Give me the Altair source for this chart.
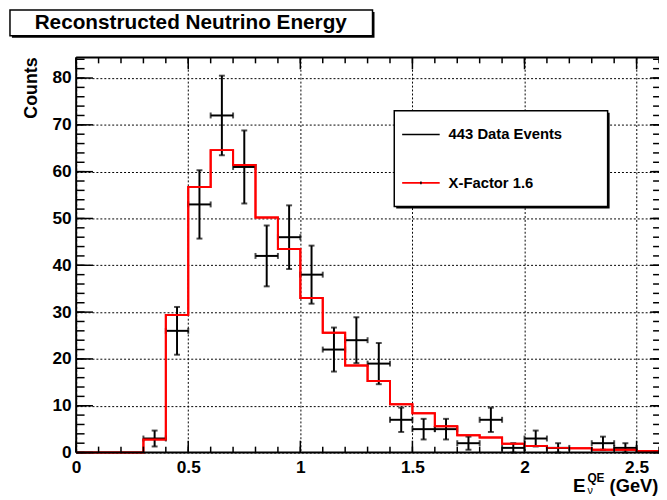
import altair as alt
import pandas as pd

# ---------------- data ----------------
bin_lo = [round(0.1 * i, 1) for i in range(26)]          # bin lower edges, width 0.1 GeV
mc_values = [0, 0, 0, 2.8, 29.4, 56.7, 64.6, 61.4, 50.2, 43.5, 33.0, 25.6, 18.6,
             15.3, 10.3, 8.4, 5.6, 3.7, 3.2, 1.9, 1.4, 1.0, 0.9, 0.6, 0.6, 0.35]
data_counts = [0, 0, 0, 3, 26, 53, 72, 61, 42, 46, 38, 22, 24,
               19, 7, 5, 5, 2, 7, 1, 3, 1, 0, 2, 1, 0]
data_errors = [0, 0, 0, 1.7, 5.1, 7.3, 8.5, 7.8, 6.5, 6.8, 6.2, 4.7, 4.9,
               4.4, 2.6, 2.2, 2.2, 1.4, 2.6, 1.0, 1.7, 1.0, 0, 1.4, 1.0, 0]
x_major = [0, 0.5, 1.0, 1.5, 2.0, 2.5]
y_major = [0, 10, 20, 30, 40, 50, 60, 70, 80]
x_minor = [round(0.1 * i, 1) for i in range(27)]
y_minor = list(range(0, 85, 2))
X_MAX = 2.6
Y_MAX = 84.4

W, H = 590, 400
FONT = "Liberation Sans"

hist_df = pd.DataFrame({"x": bin_lo + [X_MAX], "y": mc_values + [mc_values[-1]]})
pts = pd.DataFrame({"lo": bin_lo, "n": data_counts, "e": data_errors})
pts = pts[pts.n > 0].copy()
pts["xc"] = pts.lo + 0.05
pts["xlo"] = pts.lo
pts["xhi"] = pts.lo + 0.1
pts["ylo"] = pts.n - pts.e
pts["yhi"] = pts.n + pts.e

xscale = alt.Scale(domain=[0, X_MAX], nice=False, zero=False)
yscale = alt.Scale(domain=[0, Y_MAX], nice=False, zero=False)
common_axis = dict(labelFont=FONT, labelFontWeight="bold", labelFontSize=17.5,
                   labelColor="black", ticks=False, tickSize=0, domain=False,
                   grid=True, gridColor="black", gridDash=[2, 2], gridWidth=1,
                   gridOpacity=1, title=None, labelFlush=False, labelOverlap=False)
xaxis = alt.Axis(values=x_major, format="~g", labelPadding=6, **common_axis)
yaxis = alt.Axis(values=y_major, labelPadding=5, **common_axis)


def X(f):
    return alt.X(f"{f}:Q", scale=xscale, axis=xaxis)


def Y(f):
    return alt.Y(f"{f}:Q", scale=yscale, axis=yaxis)


one = pd.DataFrame({"a": [0]})

# red MC histogram
hist = alt.Chart(hist_df).mark_line(interpolate="step-after", color="#ff0000",
                                    strokeWidth=2).encode(x=X("x"), y=Y("y"))

# data points with error bars
hbar = alt.Chart(pts).mark_rule(color="black", strokeWidth=2).encode(
    x=X("xlo"), x2="xhi:Q", y=Y("n"))
vbar = alt.Chart(pts).mark_rule(color="black", strokeWidth=2).encode(
    x=X("xc"), y=Y("ylo"), y2="yhi:Q")
cap_l = alt.Chart(pts).mark_tick(color="black", orient="vertical", size=6, thickness=2).encode(
    x=X("xlo"), y=Y("n"))
cap_r = alt.Chart(pts).mark_tick(color="black", orient="vertical", size=6, thickness=2).encode(
    x=X("xhi"), y=Y("n"))
cap_b = alt.Chart(pts).mark_tick(color="black", orient="horizontal", size=6, thickness=2).encode(
    x=X("xc"), y=Y("ylo"))
cap_t = alt.Chart(pts).mark_tick(color="black", orient="horizontal", size=6, thickness=2).encode(
    x=X("xc"), y=Y("yhi"))

# inward ticks
def xticks(vals, y0, y1):
    return alt.Chart(pd.DataFrame({"t": vals})).mark_rule(color="black", strokeWidth=1.5).encode(
        x=X("t"), y=alt.value(y0), y2=alt.value(y1))


def yticks(vals, x0, x1):
    return alt.Chart(pd.DataFrame({"t": vals})).mark_rule(color="black", strokeWidth=1.5).encode(
        y=Y("t"), x=alt.value(x0), x2=alt.value(x1))


ticks = [
    xticks(x_major, H, H - 12), xticks(x_minor, H, H - 6),
    xticks(x_major, 0, 12), xticks(x_minor, 0, 6),
    yticks(y_major, 0, 17), yticks(y_minor, 0, 8.5),
    yticks(y_major, W, W - 9), yticks(y_minor, W, W - 6),
]


def rule(x0, y0, x1, y1, color="black", w=2):
    return alt.Chart(one).mark_rule(color=color, strokeWidth=w).encode(
        x=alt.value(x0), y=alt.value(y0), x2=alt.value(x1), y2=alt.value(y1))


frame = [rule(0, 0, 0, H), rule(0, H, W, H), rule(0, 0, W, 0)]


def box(x0, y0, x1, y1):
    shadow = alt.Chart(one).mark_rect(fill="black").encode(
        x=alt.value(x0 + 2), y=alt.value(y0 + 2), x2=alt.value(x1 + 2), y2=alt.value(y1 + 2))
    face = alt.Chart(one).mark_rect(fill="white", stroke="black", strokeWidth=1.5).encode(
        x=alt.value(x0), y=alt.value(y0), x2=alt.value(x1), y2=alt.value(y1))
    return [shadow, face]


def text(s, x, y, size=18, align="left", baseline="middle", angle=0, weight="bold"):
    return alt.Chart(one).mark_text(text=s, font=FONT, fontSize=size, fontWeight=weight,
                                    align=align, baseline=baseline, angle=angle,
                                    color="black").encode(x=alt.value(x), y=alt.value(y))


# legend
legend = box(322, 54, 538, 151) + [
    rule(330, 78, 368, 78, "black", 1.5),
    text("443 Data Events", 377, 78, size=15),
    rule(330, 127, 368, 127, "#ff0000", 2),
    rule(349, 125.5, 349, 128.5, "black", 1.5),
    text("X-Factor 1.6", 377, 127, size=15),
]

# title
title = box(-67, -48, 300, -22) + [text("Reconstructed Neutrino Energy", 116, -35, size=21, align="center")]

# axis titles
ytitle = text("Counts", -45, 31, size=18, align="center", angle=270)
xtitle = [
    text("E", 503, 440, size=19, baseline="alphabetic"),
    text("QE", 517.5, 426, size=12),
    text("\u03bd", 517.5, 439, size=11, weight="normal"),
    text("(GeV)", 540, 440, size=18.5, baseline="alphabetic"),
]

chart = alt.layer(
    hist, hbar, vbar, cap_l, cap_r, cap_b, cap_t, hist, *ticks, *frame,
    *legend, *title, ytitle, *xtitle
).properties(
    width=W, height=H,
    padding={"left": 69, "top": 47, "right": 0, "bottom": 45},
    autosize=alt.AutoSizeParams(type="none"),
).configure_view(stroke=None)

chart.save("out.html", embed_options={"renderer": "svg", "actions": False})
